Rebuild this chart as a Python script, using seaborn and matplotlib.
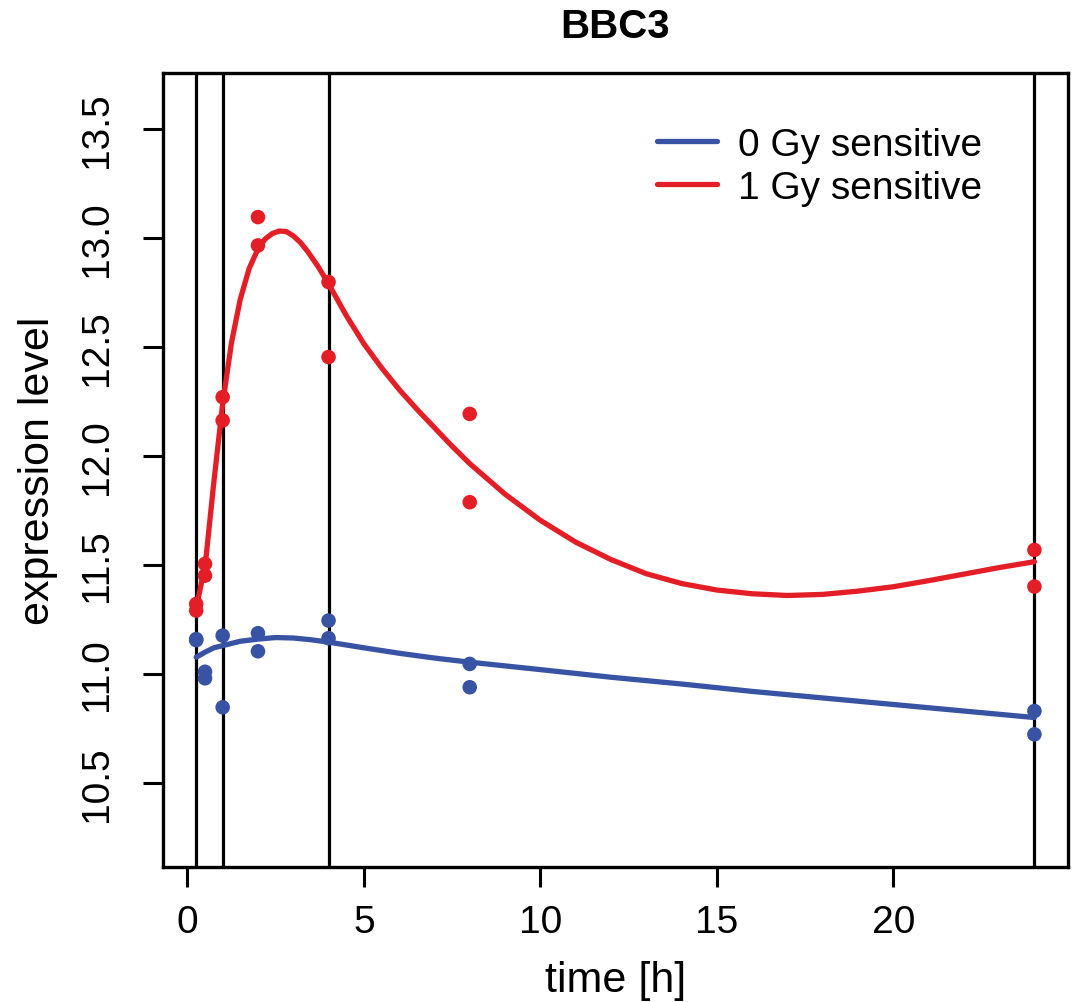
import numpy as np
import pandas as pd
import matplotlib
matplotlib.use("Agg")
import matplotlib.pyplot as plt
import seaborn as sns

# точки вимірювань (час, год)
time_points = [0.25, 0.25, 0.5, 0.5, 1, 1, 2, 2, 4, 4, 8, 8, 24, 24]
expr_0gy = [11.16, 11.155, 11.01, 10.98, 11.176, 10.847, 11.187, 11.104,
            11.245, 11.164, 11.046, 10.939, 10.83, 10.723]
expr_1gy = [11.321, 11.291, 11.505, 11.451, 12.27, 12.163, 13.096, 12.966,
            12.798, 12.454, 12.193, 11.788, 11.569, 11.401]

# згладжені криві
fit_time_0gy = [0.25, 0.5, 0.75, 1, 1.5, 2, 2.5, 3, 3.5, 4, 5, 6, 7, 8,
                10, 12, 14, 16, 18, 20, 22, 24]
fit_0gy = [11.077, 11.10, 11.12, 11.13, 11.15, 11.16, 11.167, 11.165, 11.157,
           11.146, 11.12, 11.095, 11.073, 11.054, 11.02, 10.985, 10.954,
           10.92, 10.89, 10.86, 10.83, 10.80]

fit_time_1gy = [0.25, 0.4, 0.5, 0.75, 1, 1.25, 1.5, 1.75, 2, 2.2, 2.4, 2.6,
                2.8, 3.0, 3.2, 3.4, 3.7, 4, 4.5, 5, 5.5, 6, 6.5, 7, 7.5, 8,
                9, 10, 11, 12, 13, 14, 15, 16, 17, 18, 19, 20, 21, 22, 23, 24]
fit_1gy = [11.30, 11.42, 11.49, 11.88, 12.24, 12.52, 12.72, 12.86, 12.95,
           12.995, 13.02, 13.032, 13.03, 13.01, 12.98, 12.94, 12.87, 12.79,
           12.645, 12.515, 12.405, 12.305, 12.215, 12.13, 12.045, 11.965,
           11.825, 11.705, 11.605, 11.525, 11.46, 11.415, 11.385, 11.368,
           11.36, 11.365, 11.38, 11.40, 11.428, 11.458, 11.488, 11.515]

event_lines = [0.25, 1, 4, 24]
y_ticks = [10.5, 11.0, 11.5, 12.0, 12.5, 13.0, 13.5]
x_ticks = [0, 5, 10, 15, 20]

blue = "#3953A4"
red = "#E41E26"

sns.set_style("white")
plt.rcParams["font.family"] = ["Liberation Sans", "DejaVu Sans"]
plt.rcParams["text.color"] = "black"
plt.rcParams["axes.labelcolor"] = "black"
plt.rcParams["xtick.color"] = "black"
plt.rcParams["ytick.color"] = "black"

points = pd.DataFrame({
    "time": time_points * 2,
    "expr": expr_0gy + expr_1gy,
    "group": ["0 Gy sensitive"] * len(expr_0gy) + ["1 Gy sensitive"] * len(expr_1gy),
})
fits = pd.DataFrame({
    "time": fit_time_0gy + fit_time_1gy,
    "expr": fit_0gy + fit_1gy,
    "group": ["0 Gy sensitive"] * len(fit_0gy) + ["1 Gy sensitive"] * len(fit_1gy),
})
pal = {"0 Gy sensitive": blue, "1 Gy sensitive": red}

fig = plt.figure(figsize=(10.73, 10.03), dpi=100)
ax = fig.add_axes([0.1516, 0.1343, 0.8437, 0.7919])

for xv in event_lines:
    ax.axvline(xv, color="black", lw=2.3, zorder=1)

sns.scatterplot(data=points, x="time", y="expr", hue="group", palette=pal,
                s=110, linewidth=0, legend=False, ax=ax, zorder=3)
sns.lineplot(data=fits, x="time", y="expr", hue="group", palette=pal,
             lw=3.8, ax=ax, zorder=2)

ax.set_xlim(-0.7, 24.95)
ax.set_ylim(10.113, 13.757)
ax.set_xticks(x_ticks)
ax.set_yticks(y_ticks)
ax.set_yticklabels([f"{v:.1f}" for v in y_ticks])
ax.tick_params(axis="both", direction="out", length=14.4, width=2.2,
               labelsize=28, color="black", labelcolor="black",
               bottom=True, left=True)
ax.tick_params(axis="x", pad=12)
ax.tick_params(axis="y", pad=20)
plt.setp(ax.get_yticklabels(), rotation=90, va="center")

for sp in ax.spines.values():
    sp.set_linewidth(2.4)
    sp.set_color("black")

ax.set_xlabel("time [h]", fontsize=31)
ax.xaxis.set_label_coords(0.5, -0.117)
ax.set_ylabel("expression level", fontsize=31)
ax.yaxis.set_label_coords(-0.116, 0.5)
ax.set_title("BBC3", fontsize=29, fontweight="bold", pad=26)

leg = ax.legend(loc="upper left", bbox_to_anchor=(0.546, 0.932), frameon=False,
                fontsize=28, handlelength=1.54, handletextpad=0.54,
                labelspacing=0.18, borderpad=0, borderaxespad=0)
for h in leg.get_lines():
    h.set_linewidth(3.8)

fig.savefig("out.png", dpi=100)
